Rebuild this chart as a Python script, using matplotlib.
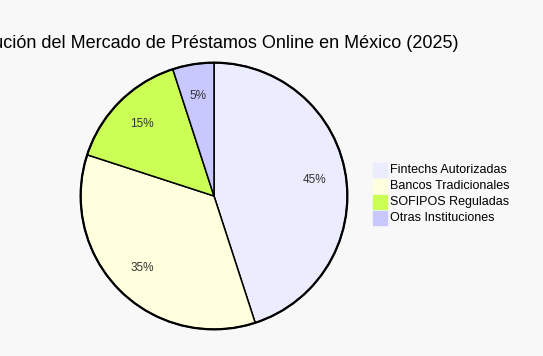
import matplotlib
matplotlib.use('Agg')
import matplotlib.pyplot as plt
from matplotlib.patches import Circle, Rectangle

# Datos del gráfico
title = 'Distribución del Mercado de Préstamos Online en México (2025)'
labels = ['Fintechs Autorizadas', 'Bancos Tradicionales', 'SOFIPOS Reguladas', 'Otras Instituciones']
values = [45, 35, 15, 5]
colors = ['#ececff', '#ffffde', '#ccff55', '#c8c8ff']

W, H = 543, 356
bg = '#f8f8f8'
font = 'Liberation Sans'
fig = plt.figure(figsize=(W / 100, H / 100), dpi=100, facecolor=bg)

# pie centrado en (214, 196) px, radio 136 px
cx, cy, r = 214, 196, 136
ax = fig.add_axes([(cx - r) / W, (H - cy - r) / H, 2 * r / W, 2 * r / H])
ax.set_facecolor(bg)
wedges, texts, autotexts = ax.pie(values, colors=colors, startangle=90, counterclock=False,
                                  autopct='%d%%', pctdistance=0.76, radius=1,
                                  wedgeprops=dict(edgecolor='black', linewidth=1.1),
                                  textprops=dict(fontsize=8.5, color='#333333', family=font))
ax.add_patch(Circle((0, 0), 1, fill=False, edgecolor='black', linewidth=1.6))
ax.set_xlim(-1.02, 1.02)
ax.set_ylim(-1.02, 1.02)
ax.set_aspect('equal')
ax.axis('off')

# título (recortado a la izquierda como en la referencia)
fig.text(458 / W, 1 - 44 / H, title, ha='right', va='center', fontsize=13,
         family=font, color='black')

# leyenda
for i, (lab, col) in enumerate(zip(labels, colors)):
    y = 170 + 16 * i
    fig.patches.append(Rectangle((373 / W, 1 - (y + 7) / H), 14 / W, 14 / H,
                                 transform=fig.transFigure, facecolor=col, edgecolor=col))
    fig.text(390 / W, 1 - y / H, lab, ha='left', va='center', fontsize=9,
             family=font, color='black')

plt.savefig('out.png', dpi=100, facecolor=bg)
plt.close()
